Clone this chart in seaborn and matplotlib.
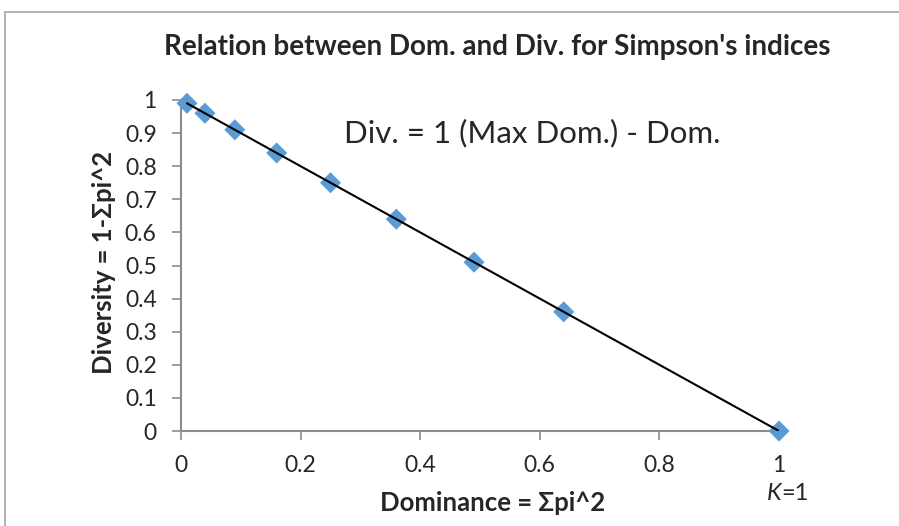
import matplotlib
matplotlib.use("Agg")
import matplotlib.pyplot as plt
import seaborn as sns
import pandas as pd
from matplotlib.patches import Rectangle

dominance = [0.01, 0.04, 0.09, 0.16, 0.25, 0.36, 0.49, 0.64, 1.0]
diversity = [0.99, 0.96, 0.91, 0.84, 0.75, 0.64, 0.51, 0.36, 0.0]
x_ticks = [0, 0.2, 0.4, 0.6, 0.8, 1]
x_labels = ["0", "0.2", "0.4", "0.6", "0.8", "1"]
y_ticks = [0, 0.1, 0.2, 0.3, 0.4, 0.5, 0.6, 0.7, 0.8, 0.9, 1]
y_labels = ["0", "0.1", "0.2", "0.3", "0.4", "0.5", "0.6", "0.7", "0.8", "0.9", "1"]

df = pd.DataFrame({"Dominance": dominance, "Diversity": diversity})

sns.set_style("white")
plt.rcParams['font.family'] = ['Lato', 'DejaVu Sans']

fig = plt.figure(figsize=(8.99, 5.26), dpi=100)
ax = fig.add_axes([181/899, 1 - 431/526, (779-181)/899, (431-100)/526])

sns.scatterplot(data=df, x="Dominance", y="Diversity", marker="D", s=115,
                color="#5B9BD5", edgecolor="none", ax=ax, zorder=3, clip_on=False)
sns.regplot(data=df, x="Dominance", y="Diversity", scatter=False, ci=None,
            truncate=True, color="black", line_kws={"linewidth": 1.5, "zorder": 4},
            ax=ax)

ax.set_xlim(0, 1)
ax.set_ylim(0, 1)
ax.set_xticks(x_ticks)
ax.set_xticklabels(x_labels)
ax.set_yticks(y_ticks)
ax.set_yticklabels(y_labels)
ax.tick_params(axis="both", which="major", direction="out", length=6.5, width=1.2,
               color="#8c8c8c", labelsize=16.5, left=True, bottom=True)
ax.tick_params(axis="y", pad=11)
ax.tick_params(axis="x", pad=11)
for s in ["top", "right"]:
    ax.spines[s].set_visible(False)
for s in ["left", "bottom"]:
    ax.spines[s].set_color("#8c8c8c")
    ax.spines[s].set_linewidth(1.5)
    ax.spines[s].set_zorder(2)
ax.grid(False)

ax.set_xlabel("Dominance = Σpi^2", fontsize=18.5, fontweight="bold")
ax.set_ylabel("Diversity = 1-Σpi^2", fontsize=18.5, fontweight="bold")
ax.xaxis.set_label_coords((493-181)/598, -(503-431)/331)
ax.yaxis.set_label_coords(-(181-104)/598, (431-262)/331)
ax.xaxis.label.set_va("center")
ax.yaxis.label.set_va("center")

fig.text(497/899, 1 - 47/526, "Relation between Dom. and Div. for Simpson's indices",
         ha="center", va="center", fontsize=20, fontweight="bold")
ax.text((532-181)/598, (431-133)/331, "Div. = 1 (Max Dom.) - Dom.", transform=ax.transAxes,
        ha="center", va="center", fontsize=22.5)
fig.text(781/899, 1 - 494/526, "K", ha="right", va="center", fontsize=17, style="italic")
fig.text(781/899, 1 - 494/526, "=1", ha="left", va="center", fontsize=17)

fig.patches.append(Rectangle((5/899, -0.1), 1.2, 1.1 - 12/526, transform=fig.transFigure,
                             fill=False, edgecolor="#a6a6a6", linewidth=1.2))

fig.savefig("out.png", dpi=100)
